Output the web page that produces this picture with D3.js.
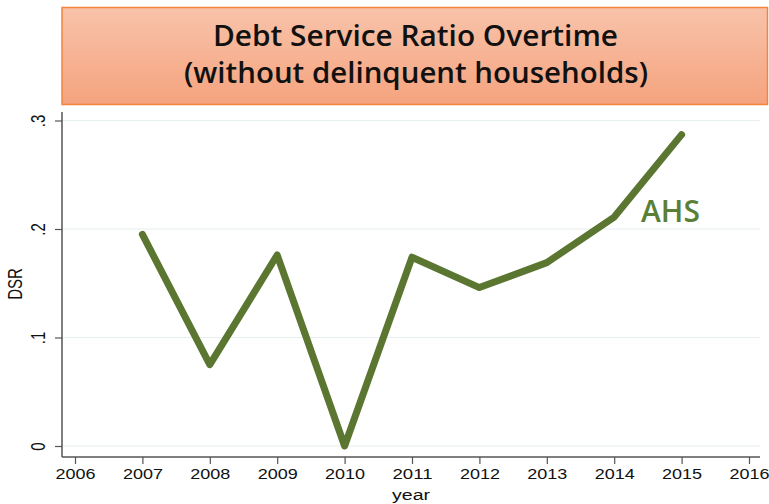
<!DOCTYPE html>
<html>
<head>
<meta charset="utf-8">
<script src="https://cdn.jsdelivr.net/npm/d3@7"></script>
<style>
  html, body { margin: 0; padding: 0; background: #fff; }
  svg { display: block; }
</style>
</head>
<body>
<svg id="chart" width="769" height="504"></svg>
<script>
// Debt service ratio by survey year, delinquent households excluded
const years = [2007, 2008, 2009, 2010, 2011, 2012, 2013, 2014, 2015];
const dsr = [0.195, 0.075, 0.176, 0.0, 0.174, 0.146, 0.169, 0.211, 0.287];
const xTicks = [2006, 2007, 2008, 2009, 2010, 2011, 2012, 2013, 2014, 2015, 2016];
const yTicks = [0, 0.1, 0.2, 0.3];
const yTickLabels = ["0", ".1", ".2", ".3"];
const titleLines = ["Debt Service Ratio Overtime", "(without delinquent households)"];
const seriesName = "AHS";

const svg = d3.select("#chart");

const plot = { left: 62, right: 760, top: 112, bottom: 457 };
const axisFont = "'Liberation Sans', Arial, sans-serif";

const x = d3.scaleLinear().domain([2006, 2016]).range([75, 749]);
const y = d3.scaleLinear().domain([0, 0.3]).range([446, 120.5]);

// title banner with peach gradient
const defs = svg.append("defs");
const grad = defs.append("linearGradient").attr("id", "titleFill")
  .attr("x1", 0).attr("y1", 0).attr("x2", 0).attr("y2", 1);
grad.append("stop").attr("offset", "0%").attr("stop-color", "#f8c3aa");
grad.append("stop").attr("offset", "100%").attr("stop-color", "#f5a37e");

svg.append("rect")
  .attr("x", 62).attr("y", 7.5).attr("width", 705.5).attr("height", 97)
  .attr("fill", "url(#titleFill)")
  .attr("stroke", "#f3843c").attr("stroke-width", 1.5);

const titleSpans = [{ x: 213, y: 46, w: 405 }, { x: 184, y: 83, w: 464 }];
svg.append("g").selectAll("text").data(titleLines).join("text")
  .attr("x", (d, i) => titleSpans[i].x)
  .attr("y", (d, i) => titleSpans[i].y)
  .attr("textLength", (d, i) => titleSpans[i].w)
  .attr("lengthAdjust", "spacingAndGlyphs")
  .attr("font-family", "'Open Sans', sans-serif")
  .attr("font-weight", 600)
  .attr("font-size", 28)
  .attr("fill", "#111")
  .text(d => d);

// horizontal gridlines
svg.append("g").selectAll("line").data(yTicks).join("line")
  .attr("x1", plot.left).attr("x2", plot.right)
  .attr("y1", d => y(d)).attr("y2", d => y(d))
  .attr("stroke", "#e6eeee").attr("stroke-width", 1.2);

// y axis: labels are rotated and drawn slightly wide
const yAxis = svg.append("g")
  .attr("transform", `translate(${plot.left},0)`)
  .call(d3.axisLeft(y).tickValues(yTicks).tickSize(7)
    .tickFormat((d, i) => yTickLabels[i]));
yAxis.select(".domain").attr("d", `M0,${plot.top}V${plot.bottom}`)
  .attr("stroke", "#555").attr("stroke-width", 1.5);
yAxis.selectAll(".tick line").attr("stroke", "#555").attr("stroke-width", 1.2);
yAxis.selectAll(".tick text")
  .attr("font-family", axisFont)
  .attr("font-size", 15).attr("fill", "#111")
  .attr("text-anchor", "middle")
  .attr("x", 0).attr("y", 0).attr("dy", null)
  .attr("transform", "translate(-17,0) scale(1.3,1) rotate(-90)");

// x axis
const xAxis = svg.append("g")
  .attr("transform", `translate(0,${plot.bottom})`)
  .call(d3.axisBottom(x).tickValues(xTicks).tickSize(7).tickFormat(d3.format("d")));
xAxis.select(".domain").attr("d", `M${plot.left},0H${plot.right}`)
  .attr("stroke", "#555").attr("stroke-width", 1.5);
xAxis.selectAll(".tick line").attr("stroke", "#555").attr("stroke-width", 1.2);
xAxis.selectAll(".tick text")
  .attr("font-family", axisFont)
  .attr("font-size", 15.5).attr("fill", "#111").attr("y", 11)
  .attr("textLength", 40).attr("lengthAdjust", "spacingAndGlyphs");

// axis titles
svg.append("text")
  .attr("transform", "translate(22,284) scale(1.3,1) rotate(-90)")
  .attr("text-anchor", "middle")
  .attr("font-family", axisFont)
  .attr("font-size", 15).attr("fill", "#111")
  .text("DSR");
svg.append("text")
  .attr("x", 411).attr("y", 500)
  .attr("text-anchor", "middle")
  .attr("font-family", axisFont)
  .attr("font-size", 15.5).attr("fill", "#111")
  .attr("textLength", 38).attr("lengthAdjust", "spacingAndGlyphs")
  .text("year");

// DSR series line
const line = d3.line().x((d, i) => x(years[i])).y(d => y(d));
svg.append("path")
  .datum(dsr)
  .attr("d", line)
  .attr("fill", "none")
  .attr("stroke", "#5a7631")
  .attr("stroke-width", 7)
  .attr("stroke-linejoin", "round")
  .attr("stroke-linecap", "round");

svg.append("text")
  .attr("x", 641).attr("y", 222)
  .attr("font-family", "'Open Sans', sans-serif")
  .attr("font-weight", 600)
  .attr("font-size", 30)
  .attr("fill", "#5a7f35")
  .text(seriesName);
</script>
</body>
</html>
